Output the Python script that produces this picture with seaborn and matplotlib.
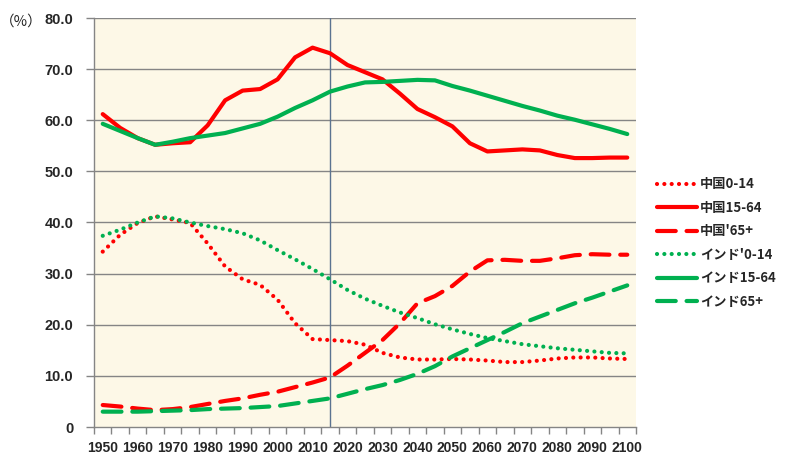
import matplotlib
matplotlib.use("Agg")
import matplotlib.pyplot as plt
import seaborn as sns
import numpy as np
import pandas as pd

years = list(range(1950, 2101, 5))

china_0_14 = [34.3, 37.6, 39.9, 41.2, 40.6, 39.9, 35.9, 31.4, 28.9, 27.8, 24.9, 20.3, 17.2, 17.0, 16.8,
              16.1, 14.5, 13.6, 13.2, 13.2, 13.3, 13.2, 13.0, 12.7, 12.7, 13.0, 13.4, 13.6, 13.6, 13.4, 13.3]
china_15_64 = [61.2, 58.5, 56.5, 55.2, 55.5, 55.7, 59.0, 63.9, 65.8, 66.1, 68.0, 72.3, 74.2, 73.1, 70.8,
               69.4, 68.0, 65.2, 62.2, 60.6, 58.8, 55.5, 53.9, 54.1, 54.3, 54.1, 53.2, 52.6, 52.6, 52.7, 52.7]
china_65 = [4.3, 4.0, 3.6, 3.3, 3.5, 3.9, 4.5, 5.1, 5.6, 6.3, 6.9, 7.8, 8.7, 9.7, 12.0,
            14.5, 17.0, 20.3, 24.2, 25.6, 27.6, 30.4, 32.6, 32.7, 32.5, 32.5, 33.0, 33.6, 33.8, 33.7, 33.7]
india_0_14 = [37.4, 38.6, 40.0, 41.2, 40.8, 40.0, 39.3, 38.7, 37.9, 36.5, 34.6, 32.8, 30.9, 28.9, 26.8,
              25.1, 23.7, 22.4, 21.3, 20.1, 19.1, 18.2, 17.4, 16.8, 16.2, 15.8, 15.4, 15.1, 14.8, 14.5, 14.4]
india_15_64 = [59.3, 57.9, 56.5, 55.2, 55.8, 56.5, 57.0, 57.5, 58.4, 59.3, 60.7, 62.4, 63.9, 65.6, 66.6,
               67.4, 67.5, 67.7, 67.9, 67.8, 66.7, 65.8, 64.8, 63.8, 62.8, 61.9, 60.9, 60.1, 59.2, 58.3, 57.3]
india_65 = [3.0, 3.0, 3.0, 3.1, 3.2, 3.3, 3.5, 3.6, 3.7, 3.9, 4.1, 4.6, 5.1, 5.6, 6.5,
            7.4, 8.2, 9.2, 10.4, 11.9, 13.8, 15.4, 17.0, 18.6, 20.3, 21.6, 22.9, 24.2, 25.3, 26.5, 27.7]

series_names = ["中国0-14", "中国15-64", "中国'65+", "インド'0-14", "インド15-64", "インド65+"]
series_values = [china_0_14, china_15_64, china_65, india_0_14, india_15_64, india_65]
y_ticks = [0, 10, 20, 30, 40, 50, 60, 70, 80]
y_tick_labels = ["0", "10.0", "20.0", "30.0", "40.0", "50.0", "60.0", "70.0", "80.0"]
x_tick_years = list(range(1950, 2101, 10))
marker_year = 2015

RED = "#FF0000"
GREEN = "#00B050"
colors = [RED, RED, RED, GREEN, GREEN, GREEN]
dot = (0, (0.01, 1.75))
dash = (0, (4.5, 2.6))
styles = [dot, "-", dash, dot, "-", dash]

sns.set_theme(style="white")
plt.rcParams['font.family'] = ['Noto Sans CJK JP', 'DejaVu Sans']

fig = plt.figure(figsize=(7.85, 4.65), dpi=100)
ax = fig.add_axes([94 / 785, 1 - 427 / 465, (636 - 94) / 785, (427 - 18) / 465])
ax.set_facecolor("#FDF8E7")

df = pd.DataFrame({"year": years})
for name, vals in zip(series_names, series_values):
    df[name] = vals

handles = []
for name, col, ls in zip(series_names, colors, styles):
    sns.lineplot(data=df, x="year", y=name, ax=ax, color=col, linewidth=3.0,
                 label=name, zorder=3)
    line = ax.lines[-1]
    line.set_linestyle(ls)
    line.set_dash_capstyle("round")
    line.set_solid_capstyle("round")
    handles.append(line)

ax.set_xlim(1947.5, 2102.5)
ax.set_ylim(0, 80)
ax.set_xlabel("")
ax.set_ylabel("")

for yv in y_ticks[1:]:
    ax.axhline(yv, color="#858585", linewidth=1.0, zorder=1)
ax.axvline(marker_year, color="#5B7390", linewidth=1.0, zorder=2)

tick_font = "Liberation Sans"
ax.set_yticks(y_ticks)
ax.set_yticklabels(y_tick_labels, fontsize=10.5, fontweight="bold", family=tick_font)
ax.set_xticks(x_tick_years)
ax.set_xticklabels([str(y) for y in x_tick_years], fontsize=10, fontweight="bold", family=tick_font)
ax.set_xticks(np.arange(1947.5, 2103, 5), minor=True)
ax.tick_params(axis="x", which="major", length=0, pad=10)
ax.tick_params(axis="x", which="minor", length=5, color="#858585", width=1, direction="out", bottom=True)
ax.tick_params(axis="y", which="major", length=6, color="#858585", width=1, direction="out", left=True, pad=9)

for s in ["top", "right"]:
    ax.spines[s].set_visible(False)
for s in ["left", "bottom"]:
    ax.spines[s].set_color("#858585")
    ax.spines[s].set_linewidth(1.0)

if ax.get_legend():
    ax.get_legend().remove()
fig.legend(handles=handles, labels=series_names, loc="upper left",
           bbox_to_anchor=(652 / 785, 1 - 172 / 465), frameon=False,
           prop={"family": ["Noto Sans CJK JP", "DejaVu Sans"], "weight": "bold", "size": 9.5},
           handlelength=3.0, labelspacing=0.72, handletextpad=0.25, borderaxespad=0)

fig.text(0, 1 - 22 / 465, "（%）", fontsize=10.5, va="center", ha="left",
         family=["Noto Sans CJK JP", "DejaVu Sans"])

fig.savefig("out.png", dpi=100)
